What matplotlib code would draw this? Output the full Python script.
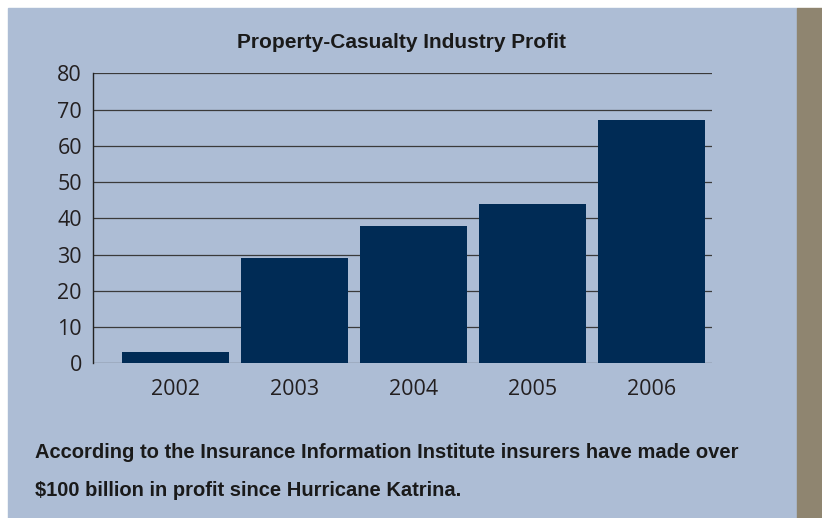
import matplotlib.pyplot as plt
from matplotlib.patches import Rectangle

years = ['2002', '2003', '2004', '2005', '2006']
profit = [3, 29, 38, 44, 67]
y_ticks = [0, 10, 20, 30, 40, 50, 60, 70, 80]

title = 'Property-Casualty Industry Profit'
caption = ['According to the Insurance Information Institute insurers have made over',
           '$100 billion in profit since Hurricane Katrina.']

bg_blue = '#adbdd5'
stripe = '#8f8570'
navy = '#002b55'
bold_font = ['Liberation Sans', 'DejaVu Sans']

W, H = 822, 518
fig = plt.figure(figsize=(W / 100, H / 100), dpi=100)
fig.patch.set_facecolor('white')

# panel background and right stripe
fig.patches.append(Rectangle((8 / W, 0), (797 - 8) / W, (H - 8) / H,
                             transform=fig.transFigure, color=bg_blue, zorder=-2))
fig.patches.append(Rectangle((797 / W, 0), (W - 797) / W, (H - 8) / H,
                             transform=fig.transFigure, color=stripe, zorder=-2))

ax = fig.add_axes([93 / W, (H - 363.3) / H, (712 - 93) / W, (363.3 - 73.3) / H])
ax.set_facecolor('none')

x = range(len(years))
ax.bar(x, profit, width=0.9, color=navy, zorder=3)

for v in y_ticks:
    ax.axhline(v, color='#3a3a3a', linewidth=0.9, zorder=1)

ax.set_ylim(0, 80)
ax.set_xlim(-0.694, 4.509)
ax.set_yticks(y_ticks)
ax.set_xticks(list(x))
ax.set_xticklabels(years)

for s in ['top', 'right', 'bottom']:
    ax.spines[s].set_visible(False)
ax.spines['left'].set_color('#222222')
ax.spines['left'].set_linewidth(1.0)
ax.spines['left'].set_zorder(4)

ax.tick_params(axis='y', length=0, pad=8, labelsize=15.5, labelcolor='#231f20')
ax.tick_params(axis='x', length=0, pad=11, labelsize=15.5, labelcolor='#231f20')
for lab in ax.get_xticklabels() + ax.get_yticklabels():
    lab.set_family(['Open Sans', 'DejaVu Sans'])

renderer = fig.canvas.get_renderer()


def fit_text(t, target_px):
    # shrink/grow the font so the text spans the same width as the reference
    w = t.get_window_extent(renderer).width
    t.set_fontsize(t.get_fontsize() * target_px / w)


t_title = fig.text(401 / W, 1 - 43 / H, title, ha='center', va='center',
                   fontsize=15, fontweight='bold', family=bold_font, color='#1a1a1a')
t_c1 = fig.text(35 / W, 1 - 452 / H, caption[0], ha='left', va='center',
                fontsize=15, fontweight='bold', family=bold_font, color='#1a1a1a')
t_c2 = fig.text(35 / W, 1 - 491 / H, caption[1], ha='left', va='center',
                fontsize=15, fontweight='bold', family=bold_font, color='#1a1a1a')
fit_text(t_title, 329)
fit_text(t_c1, 705)
t_c2.set_fontsize(t_c1.get_fontsize())

fig.savefig('out.png', dpi=100)
